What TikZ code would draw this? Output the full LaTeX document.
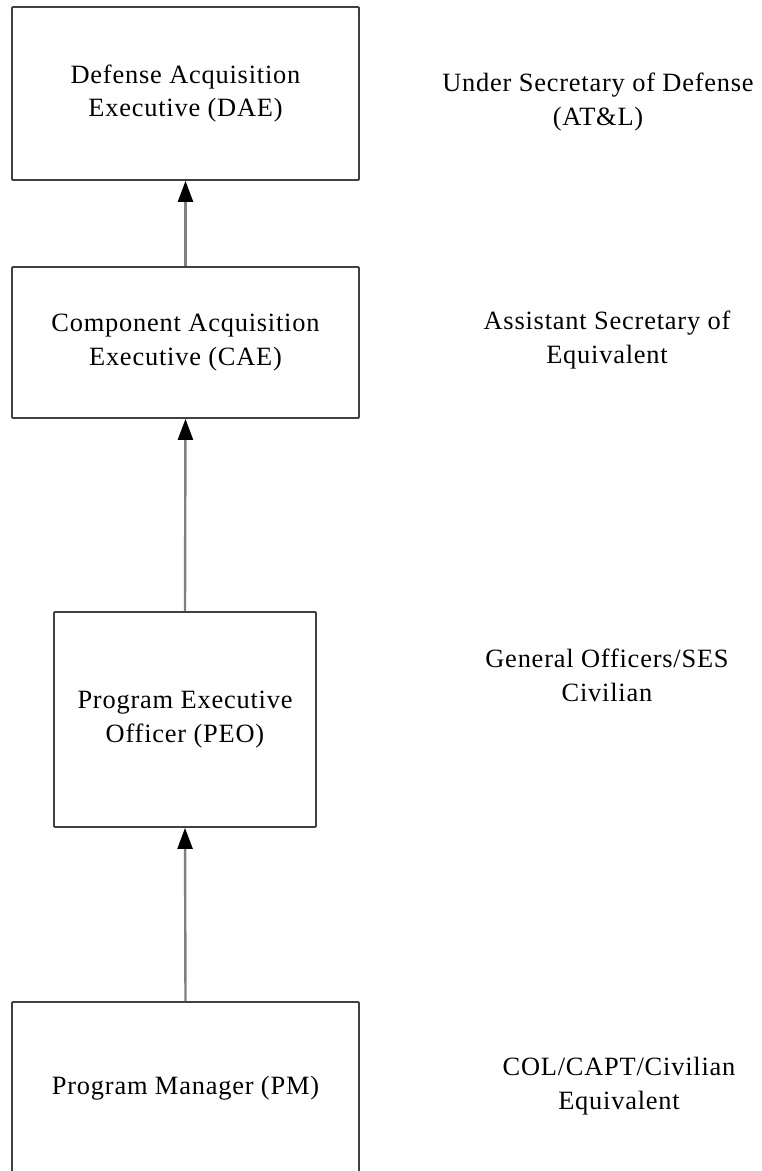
\documentclass[tikz,border=0pt]{standalone}
\usepackage{fontspec}
\setmainfont{Liberation Serif}
\usetikzlibrary{arrows.meta}
\begin{document}
\begin{tikzpicture}[x=1bp,y=-1bp,
  txt/.style={font=\fontsize{26.5}{34}\selectfont\addfontfeatures{LetterSpace=3}, align=center, text=black},
  box/.style={draw=black!75, line width=1.8bp, rounded corners=1bp, txt},
  conn/.style={draw=black!50, line width=2.4bp, -{Triangle[length=21bp,width=15bp,color=black]}}]
\useasboundingbox[fill=white] (0,0) rectangle (762,1171);
\node[box, minimum width=347bp, minimum height=173bp] (dae) at (185.5,93.5) {Defense Acquisition\\Executive (DAE)};
\node[box, minimum width=347bp, minimum height=151bp] (cae) at (185.5,342.5) {Component Acquisition\\Executive (CAE)};
\node[box, minimum width=262bp, minimum height=215bp] (peo) at (185,719.5) {Program Executive\\Officer (PEO)};
\node[box, minimum width=347bp, minimum height=172bp] (pm) at (185.5,1088) {Program Manager (PM)};
\node[txt] (l1) at (598,102) {Under Secretary of Defense\\(AT\&L)};
\node[txt] (l2) at (607,340) {Assistant Secretary of\\Equivalent};
\node[txt] (l3) at (607,675) {General Officers/SES\\Civilian};
\node[txt] (l4) at (619,1086) {COL/CAPT/Civilian\\Equivalent};
\draw[conn] (cae.north) -- (dae.south);
\draw[conn] (peo.north) -- (cae.south);
\draw[conn] (pm.north) -- (peo.south);
\end{tikzpicture}
\end{document}
